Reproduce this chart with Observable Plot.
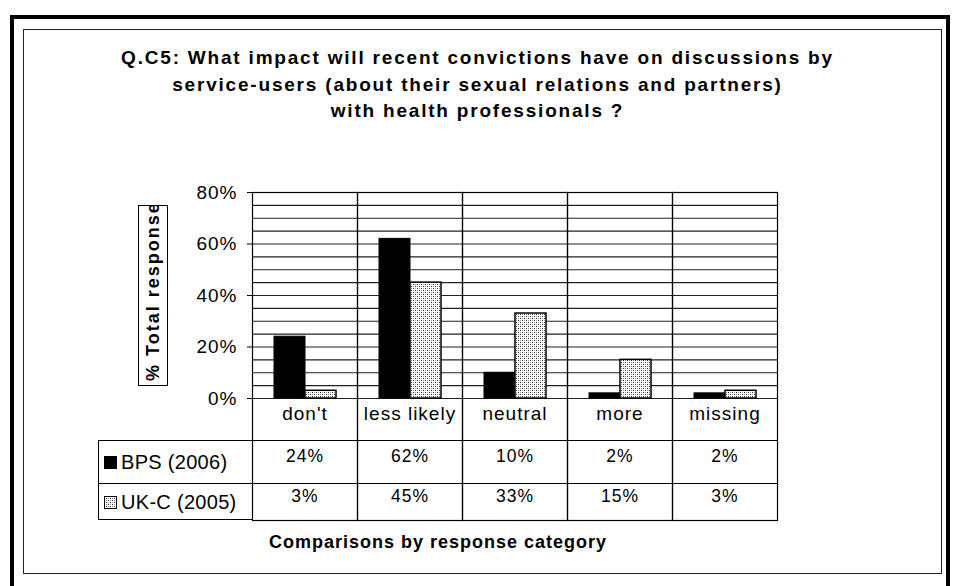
<!DOCTYPE html>
<html>
<head>
<meta charset="utf-8">
<script src="https://cdn.jsdelivr.net/npm/d3@7"></script>
<script src="https://cdn.jsdelivr.net/npm/@observablehq/plot@0.6"></script>
<style>
  body { margin: 0; background: #fff; font-family: "Liberation Sans", Arial, sans-serif; }
  #wrap { position: relative; width: 955px; height: 586px; overflow: hidden; background: #fff; }
  .outer { position: absolute; left: 10px; top: 15px; width: 932px; height: 600px; border: 4px solid #000; }
  .inner { position: absolute; left: 23px; top: 29px; width: 917px; height: 543px; border: 1.5px solid #222; }
  .title { position: absolute; left: 0; top: 45px; width: 955px; text-align: center; font-weight: bold; font-size: 19px; line-height: 26.5px; letter-spacing: 1.8px; color: #000; }
  .xtitle { position: absolute; left: 188px; top: 532px; width: 500px; text-align: center; font-weight: bold; font-size: 18px; letter-spacing: 1px; color: #000; }
  .ylab { position: absolute; left: 138px; top: 205px; width: 28px; height: 179px; border: 1px solid #000; overflow: hidden; background: #fff; }
  .ylab span { position: absolute; left: 5px; top: 175px; transform-origin: 0 0; transform: rotate(-90deg); white-space: nowrap; font-weight: bold; font-size: 18px; line-height: 19px; letter-spacing: 2px; }
  .legend { position: absolute; left: 98px; top: 440px; width: 154px; height: 80px; border: 1px solid #000; border-right: none; box-sizing: border-box; font-size: 20px; letter-spacing: 0.3px; }
  .legend .row { position: absolute; left: 0; width: 154px; display: flex; align-items: center; box-sizing: border-box; }
  .legend .row svg { margin-left: 5px; margin-right: 4px; }
  #chart { position: absolute; left: 0; top: 0; }
</style>
</head>
<body>
<div id="wrap">
  <div class="outer"></div>
  <div class="inner"></div>
  <div class="title">Q.C5: What impact will recent convictions have on discussions by<br>service-users (about their sexual relations and partners)<br>with health professionals ?</div>
  <div class="ylab"><span>% Total response</span></div>
  <div id="chart"></div>
  <div class="legend" id="legend"></div>
  <div class="xtitle">Comparisons by response category</div>
</div>
<script>
const categories = ["don't", "less likely", "neutral", "more", "missing"];
const seriesNames = ["BPS (2006)", "UK-C (2005)"];
const bpsValues = [24, 62, 10, 2, 2];
const ukcValues = [3, 45, 33, 15, 3];
const yTicks = [0, 20, 40, 60, 80];
const gridValues = [0, 5, 10, 15, 20, 25, 30, 35, 40, 45, 50, 55, 60, 65, 70, 75, 80];

const rows = categories.flatMap((c, i) => [
  {category: c, series: seriesNames[0], value: bpsValues[i]},
  {category: c, series: seriesNames[1], value: ukcValues[i]}
]);

const patternDefs = `
  <pattern id="dots" width="4" height="4" patternUnits="userSpaceOnUse">
    <rect width="4" height="4" fill="#fff"/>
    <rect x="0" y="0" width="1" height="1" fill="#333"/>
    <rect x="2" y="2" width="1" height="1" fill="#333"/>
    <rect x="2" y="0" width="1" height="1" fill="#999"/>
    <rect x="0" y="2" width="1" height="1" fill="#999"/>
  </pattern>`;

const chart = Plot.plot({
  width: 955,
  height: 586,
  marginLeft: 252,
  marginRight: 178,
  marginTop: 192,
  marginBottom: 188,
  style: {fontSize: "19px", fontFamily: "'Liberation Sans', Arial, sans-serif", color: "#000", background: "none", letterSpacing: "1px"},
  facet: {data: rows, x: "category", marginTop: 0, marginBottom: 0, marginLeft: 0, marginRight: 0},
  fx: {domain: categories, padding: 0, axis: null},
  x: {domain: seriesNames, paddingInner: 0, paddingOuter: 0.68, axis: null},
  y: {domain: [0, 80], ticks: yTicks, tickFormat: d => d + "%", tickSize: 5, tickPadding: 10, label: null},
  marks: [
    Plot.ruleY(gridValues, {stroke: "#222", strokeWidth: 1.1}),
    Plot.barY(rows, {filter: d => d.series === seriesNames[0], x: "series", y: "value", fill: "#000", stroke: "#000"}),
    Plot.barY(rows, {filter: d => d.series === seriesNames[1], x: "series", y: "value", fill: "url(#dots)", stroke: "#000", strokeWidth: 1.5}),
    Plot.frame({stroke: "#000", strokeWidth: 1.2, insetBottom: -122}),
    Plot.ruleY([0], {dy: 42, stroke: "#000"}),
    Plot.ruleY([0], {dy: 85, stroke: "#000"}),
    Plot.text(rows, {filter: d => d.series === seriesNames[0], text: "category", frameAnchor: "bottom", dy: 21, fontSize: 19, fill: "#000"}),
    Plot.text(rows, {filter: d => d.series === seriesNames[0], text: d => d.value + "%", frameAnchor: "bottom", dy: 63, fontSize: 17.5, fill: "#000"}),
    Plot.text(rows, {filter: d => d.series === seriesNames[1], text: d => d.value + "%", frameAnchor: "bottom", dy: 103, fontSize: 17.5, fill: "#000"})
  ]
});
d3.select(chart).insert("defs", ":first-child").html(patternDefs);
document.getElementById("chart").appendChild(chart);

// legend column of the data table
const legend = d3.select("#legend");
seriesNames.forEach((name, i) => {
  const row = legend.append("div").attr("class", "row")
    .style("top", i === 0 ? "0px" : "42px")
    .style("height", i === 0 ? "42px" : "37px")
    .style("border-top", i === 1 ? "1px solid #000" : null);
  const sw = row.append("svg").attr("width", 13).attr("height", 13);
  if (i === 1) sw.append("defs").html(patternDefs.replace('id="dots"', 'id="dots2"'));
  sw.append("rect").attr("x", 0.5).attr("y", 0.5).attr("width", 12).attr("height", 12)
    .attr("fill", i === 0 ? "#000" : "url(#dots2)").attr("stroke", "#000");
  row.append("span").text(name);
});
</script>
</body>
</html>
